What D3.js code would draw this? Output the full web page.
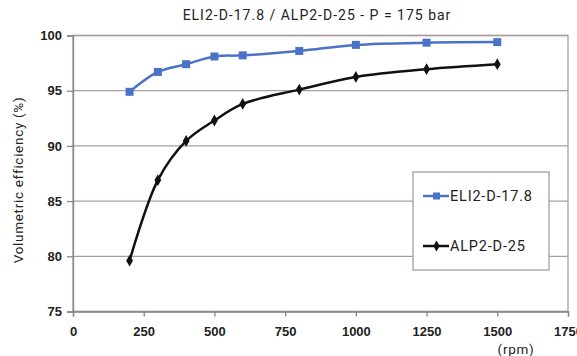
<!DOCTYPE html>
<html><head><meta charset="utf-8">
<script src="https://cdn.jsdelivr.net/npm/d3@7"></script>
<style>body{margin:0;background:#fff}svg{display:block}</style>
</head><body>
<svg id="c" width="577" height="356"></svg>
<script>
const speeds = [200, 300, 400, 500, 600, 800, 1000, 1250, 1500];
const eli2 = [94.9, 96.7, 97.4, 98.1, 98.2, 98.6, 99.15, 99.35, 99.4];
const alp2 = [79.6, 86.9, 90.45, 92.3, 93.8, 95.1, 96.25, 96.95, 97.4];
const xTicks = [0, 250, 500, 750, 1000, 1250, 1500, 1750];
const yTicks = [75, 80, 85, 90, 95, 100];
const seriesNames = ["ELI2-D-17.8", "ALP2-D-25"];
const title = "ELI2-D-17.8 / ALP2-D-25 - P = 175 bar";
const yLabel = "Volumetric efficiency (%)";
const xLabel = "(rpm)";

const svg = d3.select("#c");
const L = 73, R = 568, T = 35.5, B = 311.5;
const x = d3.scaleLinear().domain([0, 1750]).range([L, R]);
const y = d3.scaleLinear().domain([75, 100]).range([B, T]);
const grid = "#a79f9f";

svg.append("g").selectAll("line").data(yTicks).join("line")
  .attr("x1", L).attr("x2", R).attr("y1", d => y(d)).attr("y2", d => y(d))
  .attr("stroke", grid).attr("stroke-width", 1.3);
svg.append("rect").attr("x", L).attr("y", T).attr("width", R - L).attr("height", B - T)
  .attr("fill", "none").attr("stroke", grid).attr("stroke-width", 1.3);

const yAxis = d3.axisLeft(y).tickValues(yTicks).tickFormat(d3.format("d")).tickSize(6).tickPadding(5);
const gy = svg.append("g").attr("transform", `translate(${L},0)`).call(yAxis);
const xAxis = d3.axisBottom(x).tickValues(xTicks).tickFormat(d3.format("d")).tickSize(5).tickPadding(10);
const gx = svg.append("g").attr("transform", `translate(0,${B})`).call(xAxis);
[gx, gy].forEach(g => {
  g.select(".domain").attr("stroke", "#8c8484").attr("stroke-width", 1.3);
  g.selectAll(".tick line").attr("stroke", "#8c8484").attr("stroke-width", 1.3);
  g.selectAll("text").attr("font-family", "Liberation Sans, Arial, sans-serif")
    .attr("font-weight", "bold").attr("font-size", 13).attr("fill", "#222");
});

const line = d3.line().x(d => x(d[0])).y(d => y(d[1])).curve(d3.curveCatmullRom.alpha(0.5));
const blue = "#4a72c6", black = "#111";
const d1 = speeds.map((s, i) => [s, eli2[i]]);
const d2 = speeds.map((s, i) => [s, alp2[i]]);

svg.append("path").datum(d2).attr("d", line).attr("fill", "none").attr("stroke", black).attr("stroke-width", 2.5);
svg.append("g").selectAll("path").data(d2).join("path")
  .attr("d", d3.symbol(d3.symbolDiamond, 40)())
  .attr("transform", d => `translate(${x(d[0])},${y(d[1])})`).attr("fill", black);

svg.append("path").datum(d1).attr("d", line).attr("fill", "none").attr("stroke", blue).attr("stroke-width", 2.5);
svg.append("g").selectAll("rect").data(d1).join("rect")
  .attr("x", d => x(d[0]) - 4).attr("y", d => y(d[1]) - 4).attr("width", 8).attr("height", 8)
  .attr("fill", blue);

const lg = svg.append("g");
lg.append("rect").attr("x", 413).attr("y", 172).attr("width", 136).attr("height", 98)
  .attr("fill", "#fff").attr("stroke", grid).attr("stroke-width", 1.3);
const legendItems = [{name: seriesNames[0], color: blue, sym: "sq", yy: 196}, {name: seriesNames[1], color: black, sym: "di", yy: 246}];
legendItems.forEach(it => {
  lg.append("line").attr("x1", 423).attr("x2", 449).attr("y1", it.yy).attr("y2", it.yy)
    .attr("stroke", it.color).attr("stroke-width", 2.5);
  if (it.sym === "sq") lg.append("rect").attr("x", 433).attr("y", it.yy - 3.5).attr("width", 7).attr("height", 7).attr("fill", it.color);
  else lg.append("path").attr("d", d3.symbol(d3.symbolDiamond, 35)()).attr("transform", `translate(436.5,${it.yy})`).attr("fill", it.color);
  lg.append("text").attr("x", 450).attr("y", it.yy + 5).text(it.name)
    .attr("font-family", "Roboto, sans-serif").attr("font-size", 14.5).attr("letter-spacing", 0.8).attr("fill", "#222");
});

svg.append("text").attr("x", 317).attr("y", 20).attr("text-anchor", "middle").text(title)
  .attr("font-family", "Roboto, sans-serif").attr("font-size", 14).attr("letter-spacing", 1).attr("fill", "#222");
svg.append("text").attr("transform", "translate(23,180) rotate(-90)").attr("text-anchor", "middle").text(yLabel)
  .attr("font-family", "Roboto, sans-serif").attr("font-size", 13.5).attr("letter-spacing", 0.7).attr("fill", "#222");
svg.append("text").attr("x", 516).attr("y", 354).attr("text-anchor", "middle").text(xLabel)
  .attr("font-family", "Roboto, sans-serif").attr("font-size", 13.5).attr("letter-spacing", 0.7).attr("fill", "#222");
</script>
</body></html>
